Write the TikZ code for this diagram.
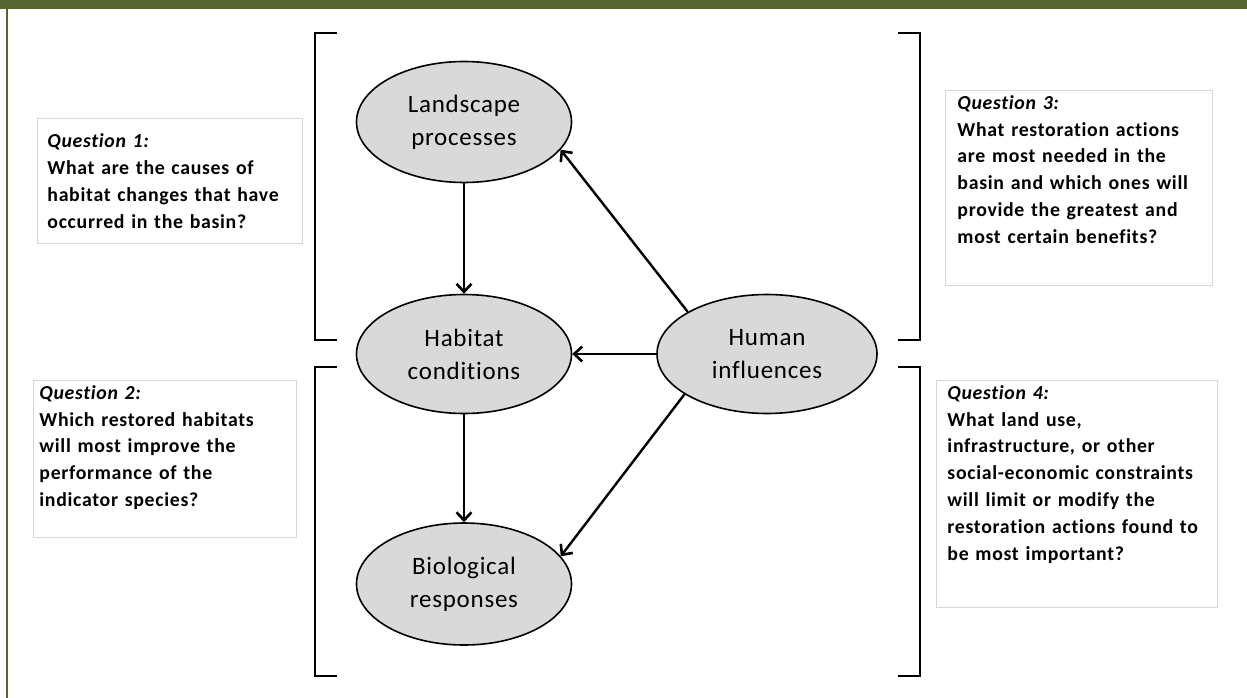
\documentclass[tikz,border=0pt]{standalone}
\usepackage{fontspec}
\setmainfont{Carlito}
\newfontfamily\qfont{Carlito}[LetterSpace=3.5,WordSpace=1.3,Ligatures=NoCommon]
\newfontfamily\ofont{Carlito}[LetterSpace=3,Ligatures=NoCommon]
\usepackage{tikz}
\usetikzlibrary{shapes.geometric,arrows.meta}

\definecolor{olivebar}{RGB}{85,101,47}
\definecolor{boxline}{RGB}{215,215,215}
\definecolor{ovalfill}{RGB}{217,217,217}

\begin{document}
\begin{tikzpicture}[
x=1pt, y=-1pt,
oval/.style={
  ellipse,
  draw,
  line width=1.6pt,
  fill=ovalfill,
  inner sep=0pt,
  align=center,
  font=\ofont\fontsize{25}{33}\selectfont
  },
qbox/.style={
  draw=boxline,
  line width=0.9pt,
  fill=white,
  anchor=north west,
  inner sep=0pt,
  font=\qfont\fontsize{19.8}{26.8}\selectfont\bfseries
  },
brak/.style={
  line width=2.6pt,
  line cap=rect
  },
link/.style={
  line width=2.4pt,
  ->
  },
>={Straight Barb[length=8pt,width=15pt,line width=2.6pt]}
]
\useasboundingbox (0,0) rectangle (1247,698);

% frame
\fill[olivebar] (0,0) rectangle (1247,9);
\fill[olivebar] (6,0) rectangle (8,698);

% the four ovals
\node[oval, minimum width=215, minimum height=121] (land) at (464,122) {Landscape\\processes};
\node[oval, minimum width=215, minimum height=119] (habitat) at (464,354) {Habitat\\conditions};
\node[oval, minimum width=215, minimum height=122] (bio) at (464,584) {Biological\\responses};
\node[oval, minimum width=220, minimum height=119] (human) at (767,354) {Human\\influences};

\draw[link] (land.south) -- (habitat.north);
\draw[link] (habitat.south) -- (bio.north);
\draw[link] (human.west) -- (habitat.east);
\draw[link] (human.152) -- (land.-16);
\draw[link] (human.206) -- (bio.16);

% brackets
\foreach \bx/\tick/\ya/\yb in {315/336/33/340, 315/336/367/676, 920/899/33/340, 920/899/367/676}
  \draw[brak] (\tick,\ya) -- (\bx,\ya) -- (\bx,\yb) -- (\tick,\yb);

% questions
\node[qbox] (q1) at (37,118) {\parbox[c][125pt][c]{265pt}{\leftskip=10pt
  \textit{Question 1:}\\
  What are the causes of\\
  habitat changes that have\\
  occurred in the basin?}};
\node[qbox] (q2) at (33,380) {\parbox[c][157pt][t]{263pt}{\leftskip=6pt
  \vspace*{5pt}\textit{Question 2:}\\
  Which restored habitats\\
  will most improve the\\
  performance of the\\
  indicator species?}};
\node[qbox] (q3) at (945,90) {\parbox[c][195pt][t]{267pt}{\leftskip=12pt
  \vspace*{5pt}\textit{Question 3:}\\
  What restoration actions\\
  are most needed in the\\
  basin and which ones will\\
  provide the greatest and\\
  most certain benefits?}};
\node[qbox] (q4) at (936,380) {\parbox[c][227pt][t]{281pt}{\leftskip=11pt
  \vspace*{5pt}\textit{Question 4:}\\
  What land use,\\
  infrastructure, or other\\
  social-economic constraints\\
  will limit or modify the\\
  restoration actions found to\\
  be most important?}};
\end{tikzpicture}
\end{document}
